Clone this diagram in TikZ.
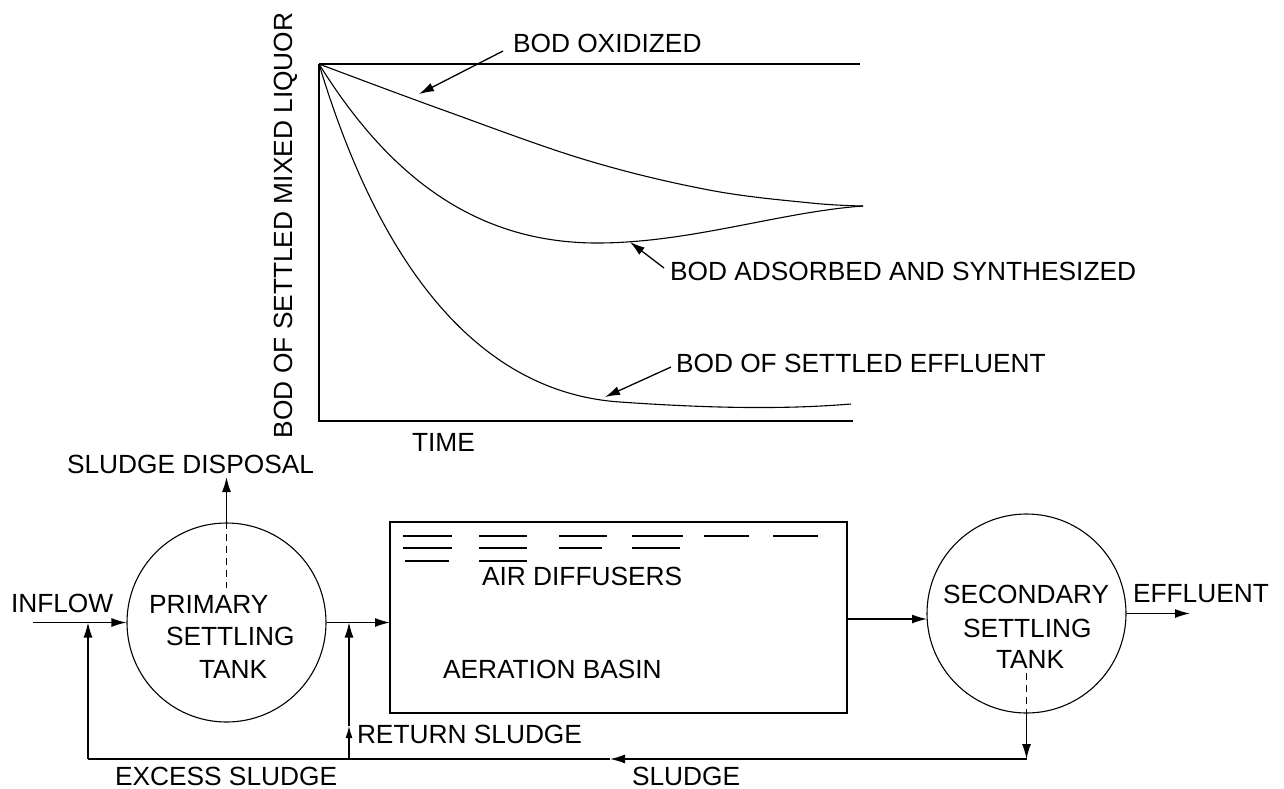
\documentclass[tikz,border=0pt]{standalone}
\usepackage{fontspec}
\setmainfont{Liberation Sans}
\usetikzlibrary{arrows.meta}
\begin{document}
\begin{tikzpicture}[x=1pt,y=-1pt,
  lbl/.style={anchor=base west,inner sep=0pt,outer sep=0pt,font=\fontsize{26.3}{31}\selectfont},
  ln/.style={line width=1.3pt,line cap=butt},
  crv/.style={line width=1.1pt},
  arr/.style={ln,-{Latex[length=15pt,width=9pt]}},
  sarr/.style={ln,-{Latex[length=12pt,width=7pt]}},
  tank/.style={draw,circle,line width=1.1pt,minimum size=199pt,inner sep=0pt},
  basinbox/.style={draw,rectangle,line width=1.3pt,minimum width=457pt,minimum height=191pt,inner sep=0pt},
  dsh/.style={line width=1.1pt,dash pattern=on 7pt off 5pt},
  diff/.style={line width=1.3pt}]
\useasboundingbox (0,0) rectangle (1284,788);

% ---------------- graph ----------------
\coordinate (o) at (319,64);
\coordinate (ax) at (319,421);
\coordinate (xe) at (853,421);
\coordinate (te) at (860,64);
\coordinate (conv) at (863,206);
\coordinate (midmin) at (597,243);
\coordinate (lowj) at (620,402);
\coordinate (lowe) at (851,404);
\draw[ln] (o) -- (ax) -- (xe);
\draw[ln] (o) -- (te);
\draw[crv] plot[smooth,tension=0.6] coordinates {(319,64) (443,110) (586,160) (709,190) (811,203) (863,206)};
\draw[crv] (o) .. controls (385,170) and (470,243) .. (midmin)
               .. controls (690,243) and (780,212) .. (conv);
\draw[crv] (o) .. controls (390,300) and (500,394) .. (lowj)
               .. controls (720,409) and (790,409) .. (lowe);

\node[lbl] (lox) at (513,52) {BOD OXIDIZED};
\node[lbl] (lad) at (670,280) {BOD ADSORBED AND SYNTHESIZED};
\node[lbl] (lef) at (676,372) {BOD OF SETTLED EFFLUENT};
\node[lbl] (ltime) at (412,451) {TIME};
\node[lbl,rotate=90] (ly) at (292,438) {BOD OF SETTLED MIXED LIQUOR};

\coordinate (aox1) at (503,51);  \coordinate (aox2) at (419,94);
\coordinate (aad1) at (664,268); \coordinate (aad2) at (630,242);
\coordinate (aef1) at (671,367); \coordinate (aef2) at (605,397);
\draw[arr] (aox1) -- (aox2);
\draw[arr] (aad1) -- (aad2);
\draw[arr] (aef1) -- (aef2);

% ---------------- flow sheet ----------------
\node[tank] (prim) at (226.5,622.5) {};
\node[tank] (sec) at (1026.5,613.5) {};
\node[basinbox] (basin) at (618.5,617.5) {};

\node[lbl] (tp1) at (149,613) {PRIMARY};
\node[lbl] (tp2) at (166,645) {SETTLING};
\node[lbl] (tp3) at (199,678) {TANK};
\node[lbl] (ts1) at (943,603) {SECONDARY};
\node[lbl] (ts2) at (963,637) {SETTLING};
\node[lbl] (ts3) at (996,668) {TANK};
\node[lbl] (tdisp) at (67,473) {SLUDGE DISPOSAL};
\node[lbl] (tin) at (11,612) {INFLOW};
\node[lbl] (teff) at (1133,602) {EFFLUENT};
\node[lbl] (tair) at (482,585) {AIR DIFFUSERS};
\node[lbl] (taer) at (443,678) {AERATION BASIN};
\node[lbl] (tret) at (357,743) {RETURN SLUDGE};
\node[lbl] (texc) at (115,785) {EXCESS SLUDGE};
\node[lbl] (tsl) at (632,785) {SLUDGE};

% diffusers
\draw[diff] (403,536) -- (452,536) (403,548) -- (452,548) (405,561) -- (449,561);
\draw[diff] (479,536) -- (527,536) (479,548) -- (527,548) (479,561) -- (527,561);
\draw[diff] (559,536) -- (607,536) (559,548) -- (602,548);
\draw[diff] (632,536) -- (683,536) (632,548) -- (680,548);
\draw[diff] (704,536) -- (749,536);
\draw[diff] (773,536) -- (818,536);

% coordinates
\coordinate (inS) at (33,622.5);
\coordinate (exTop) at (88,622.5);
\coordinate (exBot) at (88,759);
\coordinate (dispTop) at (226.5,477);
\coordinate (dispDash) at (226.5,588);
\coordinate (retTop) at (349,622.5);
\coordinate (retMid) at (349,726);
\coordinate (retBot) at (349,759);
\coordinate (basinIn) at (390,622.5);
\coordinate (basinOut) at (847,619);
\coordinate (secIn) at (927,619);
\coordinate (effEnd) at (1190,613.5);
\coordinate (secDash) at (1026.5,673);
\coordinate (slR) at (1026.5,759);
\coordinate (slMid) at (610,759);

\draw[arr] (inS) -- (prim.west);
\draw[arr] (exBot) -- (exTop);
\draw[arr] (prim.north) -- (dispTop);
\draw[dsh] (prim.north) -- (dispDash);
\draw[arr] (prim.east) -- (basinIn);
\draw[sarr] (retBot) -- (retMid);
\draw[arr] (retMid) -- (retTop);
\draw[arr] (basinOut) -- (secIn);
\draw[arr] (sec.east) -- (effEnd);
\draw[dsh] (secDash) -- (sec.south);
\draw[arr] (sec.south) -- (slR);
\draw[arr] (slR) -- (slMid);
\draw[ln] (slMid) -- (exBot);
\end{tikzpicture}
\end{document}
